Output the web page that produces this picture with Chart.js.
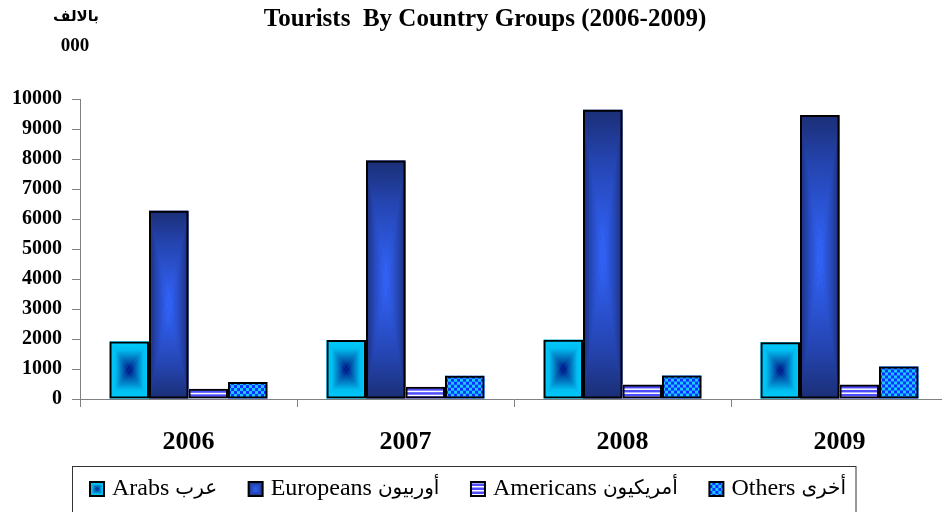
<!DOCTYPE html>
<html>
<head>
<meta charset="utf-8">
<script src="https://cdn.jsdelivr.net/npm/chart.js@4.4.0/dist/chart.umd.min.js"></script>
<style>
  html, body { margin: 0; padding: 0; background: #fff; overflow: hidden; }
  #wrap { width: 948px; height: 512px; }
</style>
</head>
<body>
<div id="wrap"><canvas id="touristsChart"></canvas></div>
<script>
// values in thousands
const years = ['2006', '2007', '2008', '2009'];
const groupLabels = ['Arabs عرب', 'Europeans أوربيون', 'Americans أمريكيون', 'Others أخرى'];
const arabs = [1920, 1965, 1975, 1890];
const europeans = [6275, 7950, 9640, 9465];
const americans = [340, 410, 485, 485];
const others = [565, 775, 780, 1085];
const yTicks = [0, 1000, 2000, 3000, 4000, 5000, 6000, 7000, 8000, 9000, 10000];

const SERIF = '"Liberation Serif", "Times New Roman", "DejaVu Sans", serif';
const ARABIC = '"DejaVu Sans", sans-serif';

// fill painters, one per series
function rectGradient(ctx, l, t, r, b, stops) {
  const cx = (l + r) / 2, cy = (t + b) / 2;
  ctx.fillStyle = stops[1][1];
  ctx.fillRect(l, t, r - l, b - t);
  const sides = [
    [l, t, r, t, cx, t],
    [r, t, r, b, r, cy],
    [r, b, l, b, cx, b],
    [l, b, l, t, l, cy]
  ];
  sides.forEach(([x1, y1, x2, y2, gx, gy]) => {
    if (gx === cx && gy === cy) return;
    const g = ctx.createLinearGradient(gx, gy, cx, cy);
    stops.forEach(([o, c]) => g.addColorStop(o, c));
    ctx.fillStyle = g;
    ctx.beginPath();
    ctx.moveTo(x1, y1);
    ctx.lineTo(x2, y2);
    ctx.lineTo(cx, cy);
    ctx.closePath();
    ctx.fill();
  });
}

function paintArabs(ctx, l, t, r, b) {
  rectGradient(ctx, l, t, r, b, [[0, '#00ccff'], [0.3, '#00bdf0'], [0.75, '#0052a8'], [1, '#000080']]);
}

function paintEuropeans(ctx, l, t, r, b) {
  rectGradient(ctx, l, t, r, b, [[0, '#1b2f76'], [0.35, '#2444b0'], [1, '#3366ff']]);
}

function paintAmericans(ctx, l, t, r, b) {
  ctx.fillStyle = '#ffffff';
  ctx.fillRect(l, t, r - l, b - t);
  ctx.fillStyle = '#4d4dff';
  for (let y = t + 1.5; y < b; y += 4) {
    ctx.fillRect(l, y, r - l, Math.min(2.5, b - y));
  }
}

function paintOthers(ctx, l, t, r, b) {
  ctx.fillStyle = '#0833ff';
  ctx.fillRect(l, t, r - l, b - t);
  ctx.fillStyle = '#1ec8ff';
  const s = 3;
  for (let j = 0, y = t; y < b; j++, y += s) {
    for (let i = 0, x = l; x < r; i++, x += s) {
      if ((i + j) % 2 === 0) ctx.fillRect(x, y, Math.min(s, r - x), Math.min(s, b - y));
    }
  }
}

const painters = [paintArabs, paintEuropeans, paintAmericans, paintOthers];

const barFills = {
  id: 'barFills',
  beforeDatasetsDraw(chart) {
    const ctx = chart.ctx;
    chart.data.datasets.forEach((ds, i) => {
      chart.getDatasetMeta(i).data.forEach(bar => {
        const {x, y, base, width} = bar.getProps(['x', 'y', 'base', 'width'], true);
        const l = x - width / 2, r = x + width / 2;
        const t = Math.min(y, base), b = Math.max(y, base);
        ctx.save();
        painters[i](ctx, l, t, r, b);
        ctx.restore();
      });
    });
  }
};

const headerText = {
  id: 'headerText',
  afterDraw(chart) {
    const ctx = chart.ctx;
    ctx.save();
    ctx.fillStyle = '#000';
    ctx.textAlign = 'center';
    ctx.textBaseline = 'middle';
    ctx.font = 'bold 25px ' + SERIF;
    ctx.fillText('Tourists  By Country Groups (2006-2009)', 485, 20);
    ctx.font = 'bold 15px ' + ARABIC;
    ctx.fillText('بالالف', 76, 17);
    ctx.font = 'bold 19px ' + SERIF;
    ctx.fillText('000', 75, 46);
    ctx.restore();
  }
};

// legend in a frame: box, English word (serif), Arabic word
const boxedLegend = {
  id: 'boxedLegend',
  afterDraw(chart) {
    const ctx = chart.ctx;
    ctx.save();
    ctx.strokeStyle = '#333';
    ctx.lineWidth = 1;
    ctx.strokeRect(72.5, 466.5, 783.5, 60);
    ctx.textBaseline = 'middle';
    const cy = 489, box = 14, gapBox = 8, gapWord = 6;
    const items = chart.data.datasets.map(ds => {
      const cut = ds.label.indexOf(' ');
      const en = ds.label.slice(0, cut), ar = ds.label.slice(cut + 1);
      ctx.font = '24px ' + SERIF;
      const wEn = ctx.measureText(en).width;
      ctx.font = '20px ' + ARABIC;
      const wAr = ctx.measureText(ar).width;
      return { en, ar, wEn, wAr, w: box + gapBox + wEn + gapWord + wAr };
    });
    const startX = 90, endX = 846;
    const used = items.reduce((s, it) => s + it.w, 0);
    const gap = (endX - startX - used) / (items.length - 1);
    let x = startX;
    items.forEach((it, i) => {
      const top = cy - box / 2;
      painters[i](ctx, x, top, x + box, top + box);
      ctx.lineWidth = 2;
      ctx.strokeStyle = '#000';
      ctx.strokeRect(x, top, box, box);
      ctx.fillStyle = '#000';
      ctx.font = '24px ' + SERIF;
      ctx.fillText(it.en, x + box + gapBox, cy);
      ctx.font = '20px ' + ARABIC;
      ctx.fillText(it.ar, x + box + gapBox + it.wEn + gapWord, cy);
      x += it.w + gap;
    });
    ctx.restore();
  }
};

Chart.defaults.font.family = SERIF;
Chart.defaults.color = '#000';

const seriesValues = [arabs, europeans, americans, others];

new Chart(document.getElementById('touristsChart'), {
  type: 'bar',
  data: {
    labels: years,
    datasets: groupLabels.map((label, i) => ({
      label: label,
      data: seriesValues[i],
      backgroundColor: 'rgba(0,0,0,0)',
      borderColor: '#000',
      borderWidth: 2,
      borderSkipped: false,
      categoryPercentage: 0.728,
      barPercentage: 1
    }))
  },
  options: {
    responsive: true,
    maintainAspectRatio: false,
    animation: false,
    layout: { padding: { top: 99, left: 10, right: 0, bottom: 43 } },
    plugins: {
      legend: { display: false },
      title: { display: false },
      tooltip: { enabled: false }
    },
    scales: {
      x: {
        grid: { drawOnChartArea: false, drawTicks: true, tickLength: 8, color: '#808080', offset: true },
        border: { color: '#808080' },
        ticks: { font: { size: 26, weight: 'bold' }, padding: 20, color: '#000' },
        afterFit: s => { s.height = 70; }
      },
      y: {
        min: 0,
        max: 10000,
        grid: { drawOnChartArea: false, tickLength: 8, color: '#808080' },
        border: { color: '#808080' },
        ticks: {
          font: { size: 20, weight: 'bold' },
          padding: 10,
          color: '#000',
          callback: v => String(v)
        },
        afterBuildTicks: s => { s.ticks = yTicks.map(v => ({ value: v })); },
        afterFit: s => { s.width = 70; }
      }
    }
  },
  plugins: [barFills, headerText, boxedLegend]
});
</script>
</body>
</html>
